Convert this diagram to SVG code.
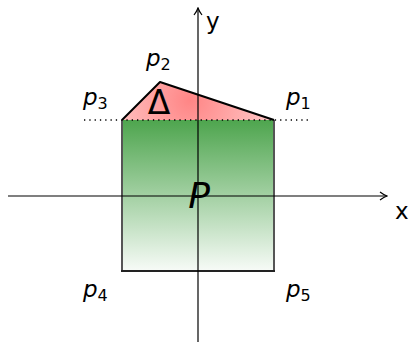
<svg xmlns="http://www.w3.org/2000/svg" width="410" height="345" viewBox="0 0 410 345">
<style>
.lbl{font-family:"DejaVu Sans",sans-serif;fill:#000}
.p{font-size:23px;font-style:italic}
.sub{font-size:16px;font-style:normal}
.axis{stroke:#000;stroke-width:1.2;fill:none}
</style>
<defs>
<linearGradient id="gG" x1="0" y1="0" x2="0" y2="1">
<stop offset="0" stop-color="#4ea54e"/>
<stop offset="1" stop-color="#f7fbf7"/>
</linearGradient>
<radialGradient id="rG" gradientUnits="userSpaceOnUse" cx="190" cy="100" r="80">
<stop offset="0" stop-color="#ff8585"/>
<stop offset="1" stop-color="#ffc4c4"/>
</radialGradient>
<marker id="arr" viewBox="0 0 10 10" refX="9" refY="5" markerWidth="10" markerHeight="10" markerUnits="userSpaceOnUse" orient="auto">
<path d="M2,1 Q6,4 9,5 Q6,6 2,9" fill="none" stroke="#000" stroke-width="1.2"/>
</marker>
</defs>
<g id="P">
<rect x="122" y="120" width="152" height="151" fill="url(#gG)"/>
<path d="M122,120 V271 M274,120 V271" stroke="#555" stroke-width="2" fill="none"/>
<path d="M121,271 H275" stroke="#222" stroke-width="2" fill="none"/>
</g>
<g id="Delta">
<path d="M122,120 L160,82 L274,120 Z" fill="url(#rG)"/>
<path d="M122,120 L160,82 L274,120" fill="none" stroke="#000" stroke-width="2" stroke-linejoin="round"/>
<text class="lbl" x="159" y="114" font-size="33" text-anchor="middle">Δ</text>
</g>
<g id="connectors">
<line x1="84" y1="120" x2="311" y2="120" stroke="#000" stroke-width="1.3" stroke-dasharray="1.3,4"/>
<line class="axis" x1="8" y1="196" x2="387" y2="196" marker-end="url(#arr)"/>
<line class="axis" x1="198" y1="342" x2="198" y2="8" marker-end="url(#arr)"/>
</g>
<g id="labels">
<text class="lbl" x="199" y="208" font-size="36" font-style="italic" text-anchor="middle">P</text>
<text class="lbl" x="395" y="219" font-size="23">x</text>
<text class="lbl" x="206" y="29" font-size="23">y</text>
<text class="lbl p" x="146" y="66">p<tspan class="sub" dy="4">2</tspan></text>
<text class="lbl p" x="83" y="105">p<tspan class="sub" dy="4">3</tspan></text>
<text class="lbl p" x="286" y="105">p<tspan class="sub" dy="4">1</tspan></text>
<text class="lbl p" x="83" y="297">p<tspan class="sub" dy="4">4</tspan></text>
<text class="lbl p" x="286" y="297">p<tspan class="sub" dy="4">5</tspan></text>
</g>
</svg>
